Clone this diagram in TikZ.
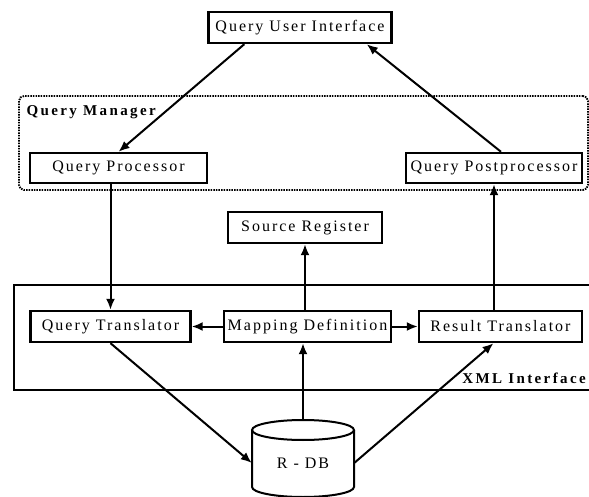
\documentclass[tikz,border=0pt]{standalone}
\usepackage{fontspec}
\setmainfont{Liberation Serif}
\newfontfamily\boxfont[LetterSpace=12.5,WordSpace=0.3]{Liberation Serif}
\newfontfamily\uifont[LetterSpace=12.5]{Liberation Serif}
\newfontfamily\groupfont[LetterSpace=16]{Liberation Serif}
\usetikzlibrary{arrows.meta}

\begin{document}
\begin{tikzpicture}[x=1pt, y=-1pt, >={Latex[length=11pt,width=9pt]}]
		\tikzstyle{block}=[draw, line width=2.4pt, minimum height=31pt, inner sep=0pt, font=\boxfont\fontsize{16}{18}\selectfont]
		\tikzstyle{link}=[->, line width=2pt]
		\tikzstyle{group}=[font=\groupfont\bfseries\fontsize{15}{17}\selectfont]

		\useasboundingbox (0,0) rectangle (589,497);

    % User interface
		\node[block, minimum width=183pt, font=\uifont\fontsize{16}{18}\selectfont](qui) at (300,27.5){Query User Interface};

    % Query manager
		\node[draw, line width=1.9pt, dash pattern=on 1.5pt off 1.1pt, rounded corners=5pt, minimum width=569pt, minimum height=94pt](qm) at (303.5,143){};
		\node[group, anchor=base west](qmlabel) at (23,115.5){Query Manager};
		\node[block, minimum width=177pt, minimum height=30pt](qp) at (118.5,168){Query Processor};
		\node[block, minimum width=176pt, minimum height=30pt](qpp) at (494,168){Query Postprocessor};

    % Source register
		\node[block, minimum width=154pt](sr) at (305,227.5){Source Register};

    % XML interface
		\node[draw, line width=2pt, minimum width=596pt, minimum height=105pt](xml) at (312,337.5){};
		\node[group, anchor=base east, inner xsep=0pt](xmllabel) at (586,383.5){XML Interface};
		\node[block, minimum width=160pt](qt) at (110.5,326.5){Query Translator};
		\node[block, minimum width=167pt](md) at (307.5,326.5){Mapping Definition};
		\node[block, minimum width=163pt](rt) at (500.5,326.5){Result Translator};

    % Database
		\node[minimum width=102pt, minimum height=86pt, inner sep=0pt, font=\uifont\fontsize{16}{18}\selectfont](rdb) at (303,463){R - DB};
		\draw[line width=2pt] (303,430) ellipse [x radius=51, y radius=10];
		\draw[line width=2pt] (252,430) -- (252,487) arc[start angle=180, end angle=0, x radius=51, y radius=10] -- (354,430);

    % Connections
		\draw[link] ([xshift=37pt]qui.south west) -- (qp.north);
		\draw[link] ([xshift=7pt]qpp.north) -- ([xshift=-26pt]qui.south east);

		\draw[link] (qp.south -| qt.north) -- (qt.north);
		\draw[link] (rt.north -| qpp.south) -- (qpp.south);
		\draw[link] (md.north -| sr.south) -- (sr.south);

		\draw[link] (md.west) -- (qt.east);
		\draw[link] (md.east) -- (rt.west);

		\draw[link] (qt.south) -- (rdb.west);
		\draw[link] (rdb.east) -- ([xshift=-7pt]rt.south);
		\draw[link] (rdb.north) -- (rdb.north |- md.south);

  \end{tikzpicture}
\end{document}
